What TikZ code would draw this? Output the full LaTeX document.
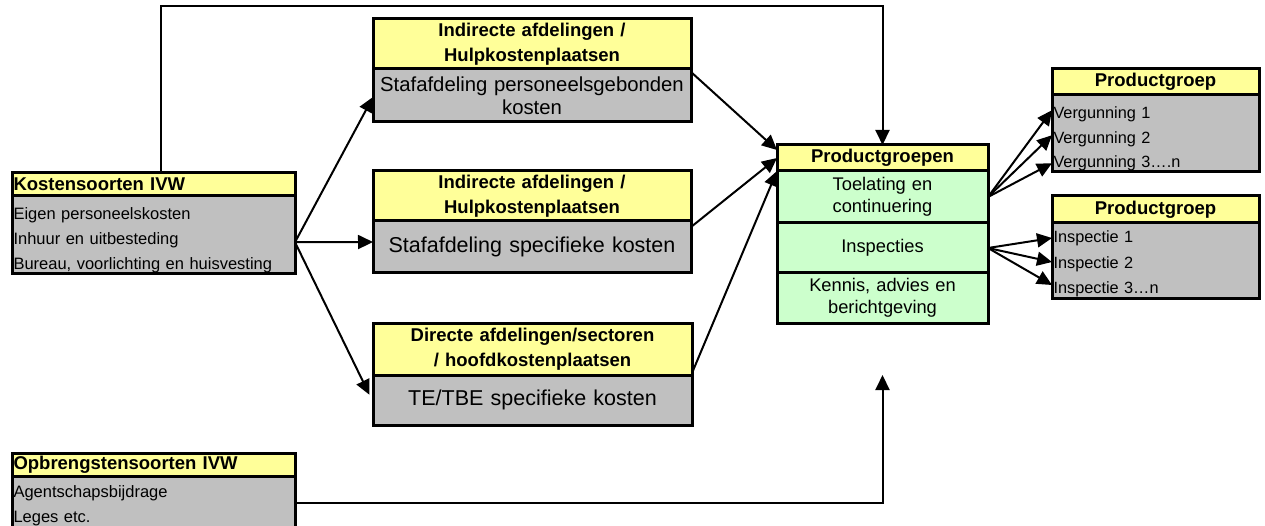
\documentclass[tikz,border=0pt]{standalone}
\usepackage{fontspec}
\setmainfont{Liberation Sans}
\usetikzlibrary{positioning,arrows.meta}
\definecolor{geel}{HTML}{FFFF99}
\definecolor{grijsvlak}{HTML}{C0C0C0}
\definecolor{groenvlak}{HTML}{CCFFCC}
\tikzset{
  lijn/.style={draw, line width=3pt, inner xsep=1.5pt, inner ysep=0pt, outer sep=0pt},
  kop/.style={lijn, fill=geel, font=\bfseries\fontsize{18.5}{25}\selectfont},
  grijs/.style={lijn, fill=grijsvlak},
  groen/.style={lijn, fill=groenvlak, font=\fontsize{18.3}{22}\selectfont, minimum width=211pt, text width=208pt, align=center},
  pijl/.style={line width=2pt, -{Triangle[length=15pt,width=14pt]}},
}
\begin{document}
\begin{tikzpicture}[x=1pt, y=-1pt]
  \useasboundingbox[fill=white] (0,0) rectangle (1265,526);
  %Kostensoorten
  \node[kop, anchor=north west, minimum width=283pt, minimum height=23pt, text width=280pt, align=left] (Kkop) at (12,173) {Kostensoorten IVW};
  \node[grijs, below=0pt of Kkop, minimum width=283pt, minimum height=77pt, text width=280pt, align=left, font=\fontsize{16.5}{25}\selectfont] (Kvak) {\rule{0pt}{24pt}Eigen personeelskosten\\Inhuur en uitbesteding\\Bureau, voorlichting en huisvesting};
  %Opbrengstensoorten
  \node[kop, anchor=north west, minimum width=283pt, minimum height=23pt, text width=280pt, align=left] (Okop) at (12,453) {Opbrengstensoorten IVW};
  \node[grijs, below=0pt of Okop, minimum width=283pt, minimum height=59pt, text width=280pt, align=left, font=\fontsize{16.5}{25}\selectfont] (Ovak) {Agentschapsbijdrage\\Leges etc.};
  %Afdelingen
  \node[kop, anchor=north west, minimum width=318pt, minimum height=50pt, text width=315pt, align=center] (I1kop) at (373,19) {Indirecte afdelingen /\\Hulpkostenplaatsen};
  \node[grijs, below=0pt of I1kop, minimum width=318pt, minimum height=53pt, text width=315pt, align=center, font=\fontsize{20.3}{23}\selectfont] (I1vak) {Stafafdeling personeelsgebonden\\kosten};
  \node[kop, anchor=north west, minimum width=318pt, minimum height=50pt, text width=315pt, align=center] (I2kop) at (373,171) {Indirecte afdelingen /\\Hulpkostenplaatsen};
  \node[grijs, below=0pt of I2kop, minimum width=318pt, minimum height=52pt, text width=315pt, align=center, font=\fontsize{21.5}{24}\selectfont] (I2vak) {Stafafdeling specifieke kosten};
  \node[kop, anchor=north west, minimum width=319pt, minimum height=52pt, text width=316pt, align=center] (D3kop) at (373,323) {Directe afdelingen/sectoren\\/ hoofdkostenplaatsen};
  \node[grijs, below=0pt of D3kop, minimum width=319pt, minimum height=50pt, text width=316pt, align=center, font=\fontsize{21.5}{24}\selectfont] (D3vak) {TE/TBE specifieke kosten};
  %Productgroepen
  \node[kop, anchor=north west, minimum width=211pt, minimum height=26pt, text width=208pt, align=center] (Pkop) at (777,145) {Productgroepen};
  \node[groen, below=0pt of Pkop, minimum height=52pt] (Ps1) {Toelating en\\continuering};
  \node[groen, below=0pt of Ps1, minimum height=50pt] (Ps2) {Inspecties};
  \node[groen, below=0pt of Ps2, minimum height=50pt] (Ps3) {Kennis, advies en\\berichtgeving};
  %Productgroep
  \node[kop, anchor=north west, minimum width=207pt, minimum height=26pt, text width=204pt, align=center] (G1kop) at (1052,69) {Productgroep};
  \node[grijs, below=0pt of G1kop, minimum width=207pt, minimum height=76pt, text width=204pt, align=left, font=\fontsize{16.3}{24.5}\selectfont] (G1vak) {\rule{0pt}{24pt}Vergunning 1\\Vergunning 2\\Vergunning 3….n};
  \node[kop, anchor=north west, minimum width=207pt, minimum height=27pt, text width=204pt, align=center] (G2kop) at (1052,196) {Productgroep};
  \node[grijs, below=0pt of G2kop, minimum width=207pt, minimum height=76pt, text width=204pt, align=left, font=\fontsize{16.3}{25.5}\selectfont] (G2vak) {\rule{0pt}{18pt}Inspectie 1\\Inspectie 2\\Inspectie 3…n};
  %Pijlen
  \draw[pijl] ([xshift=7.5pt]Kkop.north) -- ++(0,-167) -| (Pkop.north);
  \draw[pijl] ([yshift=-7.5pt]Kvak.east) -- ([yshift=-1.5pt]I1vak.west);
  \draw[pijl] ([yshift=-7.5pt]Kvak.east) -- ([yshift=5pt]I2vak.west);
  \draw[pijl, shorten >=8pt] ([yshift=-7.5pt]Kvak.east) -- ([yshift=-2pt]D3vak.west);
  \draw[pijl] ([yshift=-3pt]I1vak.north east) -- ([yshift=8pt]Pkop.west);
  \draw[pijl] ([yshift=-6pt]I2vak.north east) -- (Pkop.west);
  \draw[pijl] ([yshift=2pt]D3vak.north east) -- (Pkop.south west);
  \draw[pijl] (Ps1.east) -- ([yshift=23pt]G1vak.west);
  \draw[pijl] (Ps1.east) -- ([yshift=-2pt]G1vak.west);
  \draw[pijl] (Ps1.east) -- ([yshift=-30pt]G1vak.west);
  \draw[pijl] (Ps2.east) -- ([yshift=23pt]G2vak.west);
  \draw[pijl] (Ps2.east) -- ([yshift=-1pt]G2vak.west);
  \draw[pijl] (Ps2.east) -- ([yshift=-24pt]G2vak.west);
  \draw[pijl, shorten >=52pt] ([yshift=2.5pt]Ovak.east) -| (Ps3.south);
\end{tikzpicture}
\end{document}
